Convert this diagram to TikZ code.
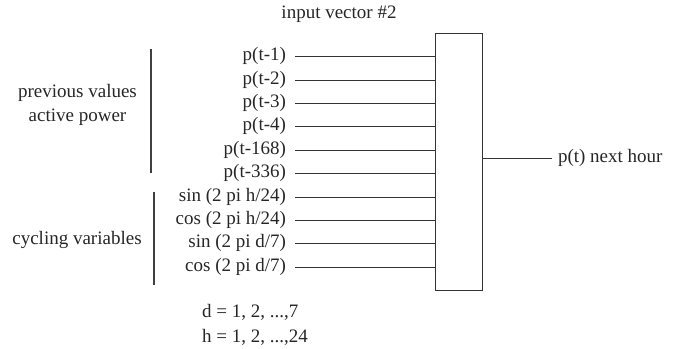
\documentclass[tikz,border=0pt]{standalone}
\usepackage{fontspec}
\setmainfont{Liberation Serif}
\usetikzlibrary{positioning,calc}

\begin{document}
\begin{tikzpicture}[
  x=1pt, y=-1pt,
  every node/.style={font=\fontsize{19}{23.5}\selectfont, text=black!85},
  inlabel/.style={anchor=east, inner sep=0pt, outer sep=9pt},
  wire/.style={draw=black!80, line width=0.9pt},
  bar/.style={draw=black!75, line width=1.6pt},
  netbox/.style={rectangle, draw=black!80, line width=0.9pt,
                 minimum width=47pt, minimum height=257pt, inner sep=0pt}
]
\useasboundingbox (0,0) rectangle (677,348);

% Title
\node (title) at (339,14) {input vector \#2};

% Network block
\node[netbox] (net) at (458.5,161.5) {};

% Inputs
\foreach \name/\y/\txt in {
  in1/56/{p(t-1)}, in2/80/{p(t-2)}, in3/103/{p(t-3)}, in4/126/{p(t-4)},
  in5/150/{p(t-168)}, in6/173/{p(t-336)},
  in7/197/{sin (2 pi h/24)}, in8/220/{cos (2 pi h/24)},
  in9/243/{sin (2 pi d/7)}, in10/267/{cos (2 pi d/7)}}
{
  \node[inlabel] (\name) at (295,\y) {\txt};
  \draw[wire] (\name.east) -- (\name.east -| net.west);
}

% Output
\node[anchor=west, inner sep=0pt, outer sep=6pt] (out) at (552,158) {p(t) next hour};
\draw[wire] (net.east |- out.west) -- (out.west);

% Groups
\node[align=center] (prev) at (77.5,105) {previous values\\active power};
\coordinate (prevtop) at (151,49);
\coordinate (prevbot) at (151,173);
\draw[bar] (prevtop) -- (prevbot);

\node (cyc) at (77,240) {cycling variables};
\coordinate (cyctop) at (154,192);
\coordinate (cycbot) at (154,285);
\draw[bar] (cyctop) -- (cycbot);

% Ranges
\node[anchor=west, inner sep=0pt] (drange) at (202,312) {d = 1, 2, ...,7};
\node[anchor=west, inner sep=0pt] (hrange) at (202,337) {h = 1, 2, ...,24};

\end{tikzpicture}
\end{document}
